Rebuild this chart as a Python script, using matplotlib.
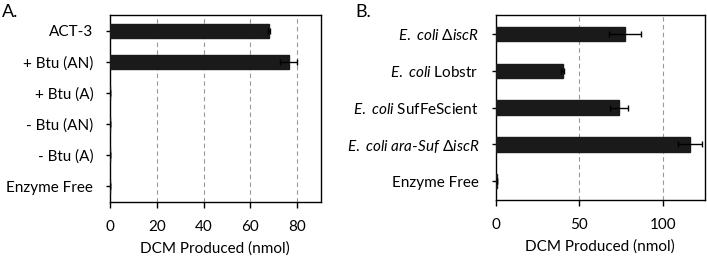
import matplotlib
matplotlib.use("Agg")
import matplotlib.pyplot as plt

plt.rcParams["font.family"] = ["Lato", "DejaVu Sans"]
plt.rcParams["mathtext.fontset"] = "custom"
plt.rcParams["mathtext.rm"] = "Lato"
plt.rcParams["mathtext.it"] = "Lato:italic"

# panel A
labels_a = ["ACT-3", "+ Btu (AN)", "+ Btu (A)", "- Btu (AN)", "- Btu (A)", "Enzyme Free"]
values_a = [68, 76.3, 0, 0, 0, 0]
errors_a = [0.3, 3.7, 0, 0, 0, 0]
xticks_a = [0, 20, 40, 60, 80]

# panel B
labels_b = [
    r"$\mathit{E.\ coli\ \Delta iscR}$",
    r"$\mathit{E.\ coli}$ Lobstr",
    r"$\mathit{E.\ coli}$ SufFeScient",
    r"$\mathit{E.\ coli\ ara}$-$\mathit{Suf\ \Delta iscR}$",
    "Enzyme Free",
]
values_b = [77.4, 40, 73.6, 116.1, 0.6]
errors_b = [9.5, 1.0, 5.3, 7.2, 0]
xticks_b = [0, 50, 100]

fig = plt.figure(figsize=(7.07, 2.56), dpi=100)
ax_a = fig.add_axes([0.1556, 0.211, 0.298, 0.730])
ax_b = fig.add_axes([0.701, 0.219, 0.296, 0.722])


def draw_panel(ax, labels, values, errors, xticks, xmax, height):
    pos = list(range(len(labels)))
    ax.barh(pos, values, height=height, color="#1a1a1a", edgecolor="#1a1a1a",
            zorder=3)
    ax.errorbar(values, pos, xerr=errors, fmt="none", ecolor="black",
                elinewidth=1.0, capsize=2, capthick=1.0, zorder=4)
    ax.set_yticks(pos)
    ax.set_yticklabels(labels)
    ax.set_ylim(len(labels) - 0.5, -0.5)
    ax.set_xlim(0, xmax)
    ax.set_xticks(xticks)
    for x in xticks[1:]:
        ax.axvline(x, color="#999999", linestyle=(0, (4, 3)), linewidth=0.8,
                   zorder=1)
    ax.tick_params(axis="y", length=3, width=1, pad=9, labelsize=11)
    ax.tick_params(axis="x", length=4, width=1, pad=9, labelsize=11)
    for sp in ax.spines.values():
        sp.set_linewidth(1.0)
    ax.set_xlabel("DCM Produced (nmol)", fontsize=11, labelpad=5)


draw_panel(ax_a, labels_a, values_a, errors_a, xticks_a, 90, 0.44)
draw_panel(ax_b, labels_b, values_b, errors_b, xticks_b, 125, 0.38)

fig.text(0.003, 0.985, "A.", fontsize=13, va="top", ha="left")
fig.text(0.502, 0.985, "B.", fontsize=13, va="top", ha="left")

fig.savefig("out.png", dpi=100)
